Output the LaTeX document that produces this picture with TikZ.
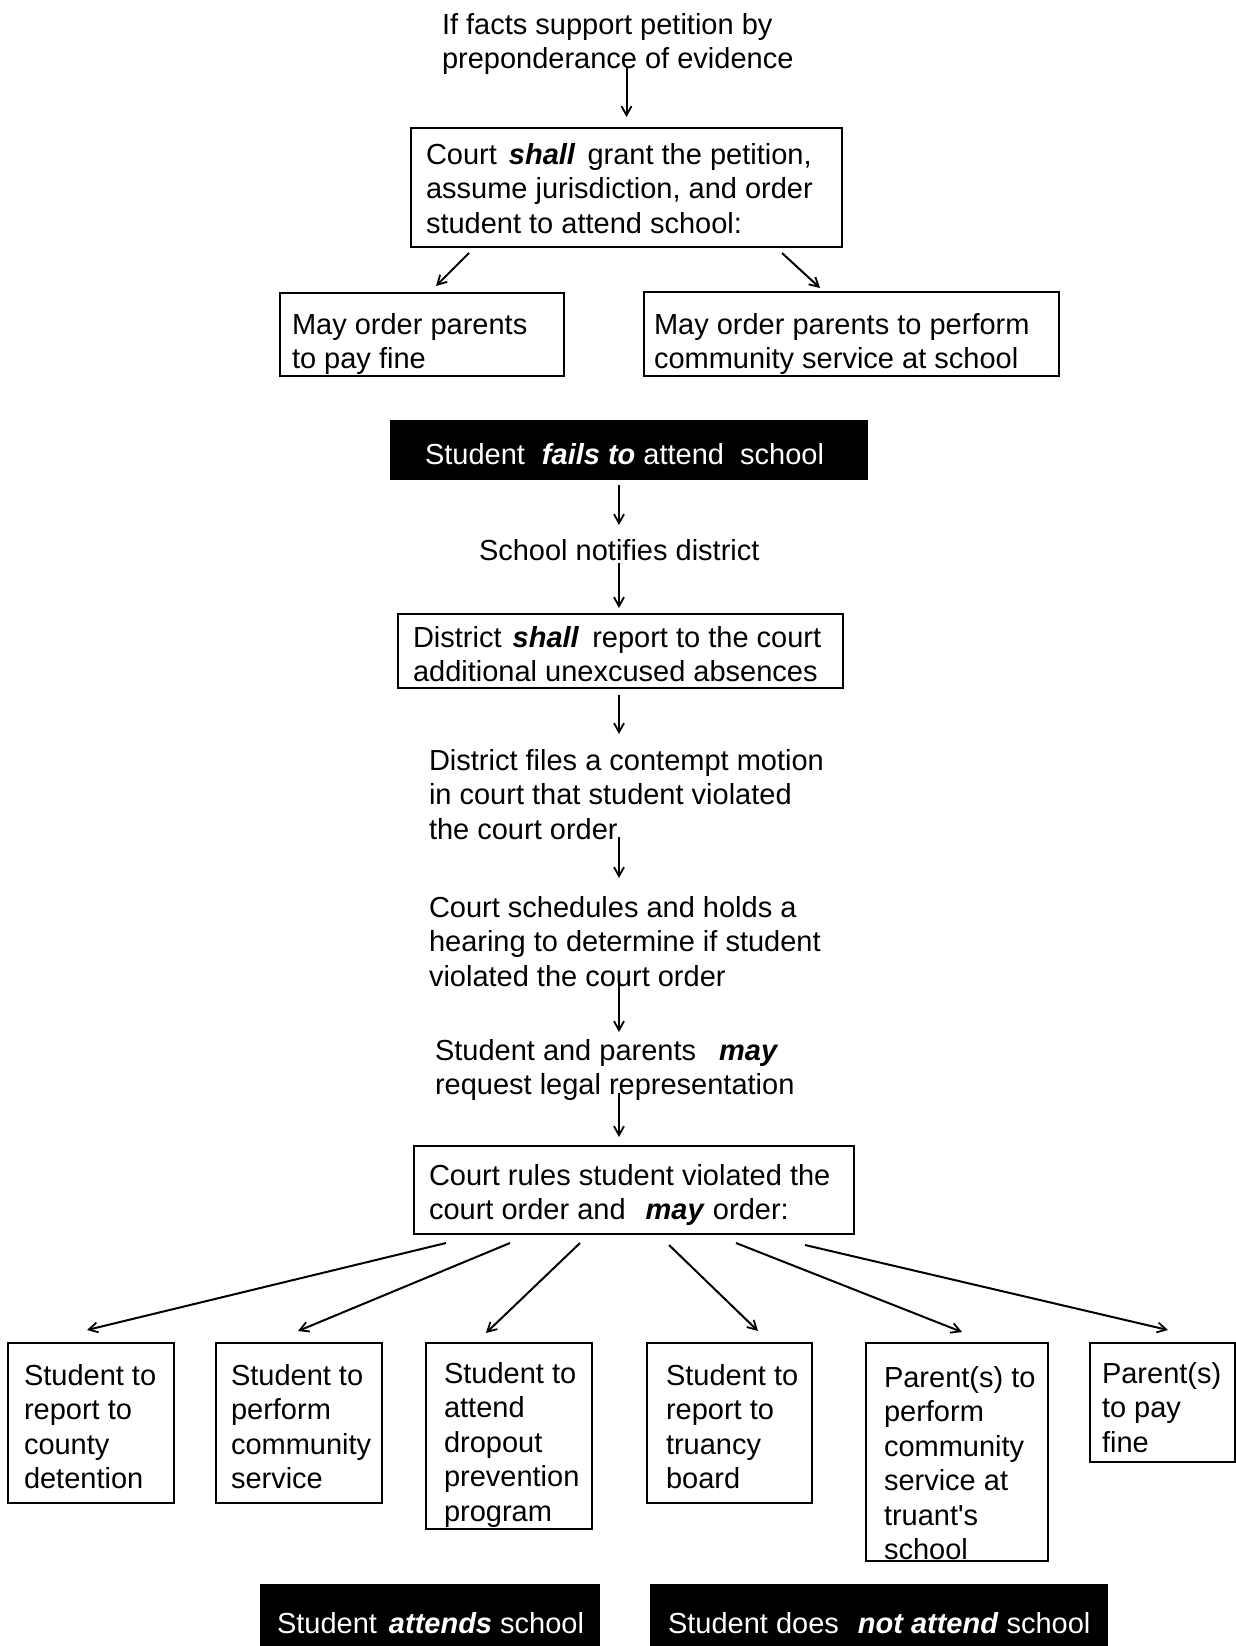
\documentclass[tikz,border=0pt]{standalone}
\usepackage{fontspec}
\setmainfont{Liberation Sans}
\usetikzlibrary{calc,arrows.meta}
\newcommand\emb[1]{\textbf{\textit{#1}}}
\begin{document}
\begin{tikzpicture}[x=1pt,y=-1pt,
  every node/.style={inner sep=0pt, outer sep=0pt},
  box/.style={draw, line width=2.2pt, anchor=north west},
  blackbox/.style={fill=black, anchor=north west},
  txt/.style={font=\fontsize{29}{34.5}\selectfont, align=left, anchor=north west},
  wtxt/.style={font=\fontsize{29}{34.5}\selectfont, text=white, anchor=base west},
  arr/.style={-{Straight Barb[length=9pt,width=10pt,line width=1.8pt]}, line width=2pt}
]
\useasboundingbox (0,0) rectangle (1236,1646);
\clip (0,0) rectangle (1236,1646);

% top text
\node[txt] (t0) at (442,13) {If facts support petition by\\preponderance of evidence};

% box 1
\node[box, minimum width=431pt, minimum height=119pt] (b1) at (411,128) {};
\node[txt] (tb1) at (426,143) {Court\hspace{12pt}\emb{shall}\hspace{4pt} grant the petition,\\assume jurisdiction, and order\\student to attend school:};

% boxes 2,3
\node[box, minimum width=284pt, minimum height=83pt] (b2) at (280,293) {};
\node[txt] (tb2) at (292,313) {May order parents\\to pay fine};
\node[box, minimum width=415pt, minimum height=84pt] (b3) at (644,292) {};
\node[txt] (tb3) at (654,313) {May order parents to perform\\community service at school};

% black box 1
\node[blackbox, minimum width=478pt, minimum height=60pt] (k1) at (390,420) {};
\node[wtxt] (tk1) at (425,464) {Student\hspace{17pt}\emb{fails to} attend\hspace{8pt} school};

% school notifies
\node[txt, anchor=base west] (t2) at (479,560) {School notifies district};

% box 4
\node[box, minimum width=445pt, minimum height=74pt] (b4) at (398,614) {};
\node[txt] (tb4) at (413,626) {District\hspace{3pt} \emb{shall}\hspace{5pt} report to the court\\additional unexcused absences};

% text 3,4,5
\node[txt] (t3) at (429,749) {District files a contempt motion\\in court that student violated\\the court order};
\node[txt] (t4) at (429,896) {Court schedules and holds a\\hearing to determine if student\\violated the court order};
\node[txt] (t5) at (435,1039) {Student and parents\hspace{23pt}\emb{may}\\request legal representation};

% box 5
\node[box, minimum width=440pt, minimum height=88pt] (b5) at (414,1146) {};
\node[txt] (tb5) at (429,1164) {Court rules student violated the\\court order and\hspace{20pt}\emb{may} order:};

% bottom row
\node[box, minimum width=166pt, minimum height=160pt] (c1) at (8,1343) {};
\node[txt] (tc1) at (24,1364) {Student to\\report to\\county\\detention};
\node[box, minimum width=166pt, minimum height=160pt] (c2) at (216,1343) {};
\node[txt] (tc2) at (231,1364) {Student to\\perform\\community\\service};
\node[box, minimum width=166pt, minimum height=186pt] (c3) at (426,1343) {};
\node[txt] (tc3) at (444,1362) {Student to\\attend\\dropout\\prevention\\program};
\node[box, minimum width=165pt, minimum height=160pt] (c4) at (647,1343) {};
\node[txt] (tc4) at (666,1364) {Student to\\report to\\truancy\\board};
\node[box, minimum width=182pt, minimum height=218pt] (c5) at (866,1343) {};
\node[txt] (tc5) at (884,1366) {Parent(s) to\\perform\\community\\service at\\truant\textquotesingle s\\school};
\node[box, minimum width=145pt, minimum height=119pt] (c6) at (1090,1343) {};
\node[txt] (tc6) at (1102,1362) {Parent(s)\\to pay\\fine};

% bottom black boxes
\node[blackbox, minimum width=340pt, minimum height=80pt] (k2) at (260,1584) {};
\node[wtxt] (tk2) at (277,1633) {Student\hspace{12pt}\emb{attends} school};
\node[blackbox, minimum width=458pt, minimum height=80pt] (k3) at (650,1584) {};
\node[wtxt] (tk3) at (668,1633) {Student does\hspace{19pt}\emb{not attend} school};

% connectors
\draw[arr] ($(t0.south -| b1.north)+(0,-8)$) -- ($(b1.north)+(0,-11)$);
\draw[arr] ($(b1.south west)+(58,6)$) -- ($(b2.north)+(14,-7)$);
\draw[arr] ($(b1.south east)+(-60,6)$) -- ($(b3.north)+(-31.5,-4)$);
\draw[arr] ($(k1.south)+(-10,5)$) -- ($(t2.base west)+(140,-35)$);
\draw[arr] ($(t2.base west)+(140,3)$) -- ($(b4.north)+(-1.5,-6)$);
\draw[arr] ($(b4.south)+(-1.5,7)$) -- ($(t3.north west)+(190,-15)$);
\draw[arr] ($(t3.north west)+(190,88)$) -- ($(t4.north west)+(190,-18)$);
\draw[arr] ($(t4.north west)+(190,84)$) -- ($(t5.north west)+(184,-7)$);
\draw[arr] ($(t5.north west)+(184,54)$) -- ($(b5.north)+(-15,-9)$);

\draw[arr] ($(b5.south)+(-188,9)$) -- ($(c1.north)+(-4,-13)$);
\draw[arr] ($(b5.south)+(-124,9)$) -- ($(c2.north)+(-1,-12)$);
\draw[arr] ($(b5.south)+(-54,9)$) -- ($(c3.north)+(-23,-10)$);
\draw[arr] ($(b5.south)+(35,11)$) -- ($(c4.north)+(28.5,-12)$);
\draw[arr] ($(b5.south)+(102,9)$) -- ($(c5.north)+(5,-11)$);
\draw[arr] ($(b5.south)+(171,11)$) -- ($(c6.north)+(5.5,-13)$);
\end{tikzpicture}
\end{document}
